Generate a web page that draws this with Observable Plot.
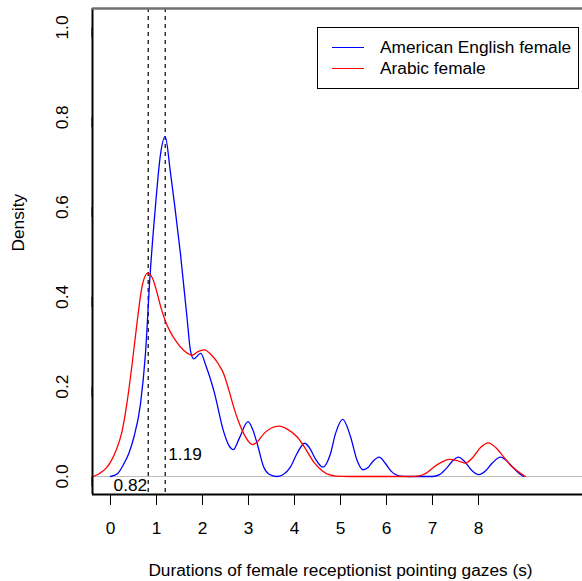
<!DOCTYPE html>
<html>
<head>
<meta charset="utf-8">
<script src="https://cdn.jsdelivr.net/npm/d3@7"></script>
<script src="https://cdn.jsdelivr.net/npm/@observablehq/plot@0.6"></script>
<style>
  html, body { margin: 0; padding: 0; background: #fff; }
  #wrap { position: relative; width: 582px; height: 581px; font-family: "Liberation Sans", Arial, Helvetica, sans-serif; }
  #legend { position: absolute; left: 317px; top: 27px; width: 262px; height: 62px; box-sizing: border-box; border: 1px solid #000; background: #fff; }
  .item { position: absolute; left: 0; height: 20px; width: 100%; font-size: 17.3px; line-height: 20px; color: #000; }
  .swatch { position: absolute; left: 14px; top: 10px; width: 32px; height: 0; border-top: 1.2px solid; }
  .name { position: absolute; left: 62px; top: 0; white-space: nowrap; }
</style>
</head>
<body>
<div id="wrap"><div id="legend"></div></div>
<script>
// Kernel density estimates of pointing-gaze durations, [seconds, density]
const americanEnglish = [
  [0.00,0.000],[0.15,0.006],[0.29,0.028],[0.40,0.052],[0.51,0.088],[0.65,0.160],[0.76,0.273],
  [0.855,0.440],[0.98,0.605],[1.08,0.712],[1.19,0.757],[1.30,0.680],[1.40,0.600],[1.52,0.497],
  [1.67,0.347],[1.74,0.280],[1.81,0.262],[1.96,0.274],[2.08,0.245],[2.25,0.190],[2.46,0.100],
  [2.57,0.070],[2.67,0.060],[2.80,0.085],[2.99,0.122],[3.09,0.105],[3.19,0.073],[3.33,0.021],
  [3.45,0.005],[3.61,0.000],[3.75,0.004],[3.91,0.021],[4.05,0.050],[4.22,0.074],[4.35,0.060],
  [4.45,0.040],[4.62,0.021],[4.78,0.050],[4.89,0.095],[5.05,0.127],[5.22,0.088],[5.36,0.036],
  [5.49,0.015],[5.60,0.020],[5.70,0.033],[5.84,0.043],[5.97,0.030],[6.10,0.012],[6.30,0.001],
  [6.50,0.000],[7.00,0.000],[7.15,0.004],[7.30,0.018],[7.45,0.036],[7.56,0.043],[7.70,0.033],
  [7.85,0.014],[8.01,0.004],[8.15,0.012],[8.30,0.030],[8.48,0.043],[8.60,0.036],[8.75,0.020],
  [8.88,0.007],[8.98,0.000]
];
const arabic = [
  [-0.37,0.000],[-0.25,0.006],[-0.10,0.018],[0.00,0.032],[0.12,0.058],[0.25,0.100],[0.36,0.165],
  [0.47,0.250],[0.58,0.345],[0.69,0.425],[0.81,0.453],[0.92,0.440],[1.01,0.410],[1.10,0.375],
  [1.19,0.347],[1.30,0.322],[1.42,0.302],[1.59,0.281],[1.78,0.270],[1.90,0.278],[2.04,0.282],
  [2.20,0.270],[2.35,0.250],[2.46,0.229],[2.58,0.190],[2.68,0.154],[2.80,0.118],[2.90,0.095],
  [3.00,0.078],[3.08,0.071],[3.20,0.078],[3.33,0.095],[3.50,0.108],[3.66,0.112],[3.85,0.105],
  [4.06,0.088],[4.25,0.060],[4.42,0.032],[4.60,0.013],[4.75,0.004],[4.90,0.001],[5.20,0.000],
  [6.50,0.000],[6.74,0.002],[6.90,0.010],[7.03,0.021],[7.20,0.032],[7.36,0.038],[7.55,0.035],
  [7.72,0.030],[7.88,0.043],[8.05,0.065],[8.21,0.075],[8.38,0.064],[8.55,0.043],[8.70,0.025],
  [8.84,0.013],[9.02,0.000]
];
const seriesNames = ["American English female", "Arabic female"];
const seriesColors = ["#0000ff", "#ff0000"];
const medians = [0.82, 1.19];
const xTicks = [0, 1, 2, 3, 4, 5, 6, 7, 8];
const yTicks = [0, 0.2, 0.4, 0.6, 0.8, 1.0];
const xLabel = "Durations of female receptionist pointing gazes (s)";
const yLabel = "Density";

const xDomain = [-0.391, 10.261];
const yDomain = [-0.0401, 1.0423];

const rows = [
  ...americanEnglish.map(([x, y]) => ({series: seriesNames[0], x, y})),
  ...arabic.map(([x, y]) => ({series: seriesNames[1], x, y}))
];

const chart = Plot.plot({
  width: 582,
  height: 581,
  marginLeft: 92,
  marginRight: 0,
  marginTop: 8,
  marginBottom: 87,
  style: {fontSize: "17.3px", fontFamily: "'Liberation Sans', Arial, Helvetica, sans-serif", color: "#000", background: "#fff"},
  x: {domain: xDomain},
  y: {domain: yDomain},
  color: {domain: seriesNames, range: seriesColors},
  marks: [
    Plot.ruleY([0], {stroke: "#bebebe", strokeWidth: 1.2}),
    Plot.ruleX(medians, {stroke: "#000", strokeWidth: 1.2, strokeDasharray: "4,4"}),
    Plot.line(rows, {x: "x", y: "y", z: "series", stroke: "series", strokeWidth: 1.3, curve: "monotone-x"}),
    Plot.text([medians[0]], {x: (d) => d, y: 0, text: (d) => d.toFixed(2), textAnchor: "end", dx: -1, dy: 8.5}),
    Plot.text([medians[1]], {x: (d) => d, y: 0, text: (d) => d.toFixed(2), textAnchor: "start", dx: 3, dy: -22}),
    // plot box: left, bottom and top edges
    Plot.ruleX([xDomain[0]], {stroke: "#000", strokeWidth: 2}),
    Plot.ruleY([yDomain[0]], {stroke: "#000", strokeWidth: 2}),
    Plot.ruleY([yDomain[1]], {stroke: "#707070", strokeWidth: 2.5}),
    Plot.axisX({ticks: xTicks, tickSize: 11, tickPadding: 16, label: null, tickFormat: d3.format("d")}),
    Plot.axisY({ticks: yTicks, tickSize: 10, tickPadding: 15, label: null, tickFormat: d3.format(".1f"),
      rotate: -90, textAnchor: "middle", lineAnchor: "bottom"}),
    Plot.text([xLabel], {frameAnchor: "bottom", text: (d) => d, lineAnchor: "bottom", dy: 81, dx: 3}),
    Plot.text([yLabel], {frameAnchor: "left", text: (d) => d, rotate: -90, lineAnchor: "bottom", dx: -69})
  ]
});

const wrap = document.getElementById("wrap");
wrap.insertBefore(chart, wrap.firstChild);

// legend box in the top-right corner of the plot
const legend = document.getElementById("legend");
seriesNames.forEach((name, i) => {
  const item = document.createElement("div");
  item.className = "item";
  item.style.top = (9 + i * 21) + "px";
  const sw = document.createElement("div");
  sw.className = "swatch";
  sw.style.borderTopColor = seriesColors[i];
  const label = document.createElement("span");
  label.className = "name";
  label.textContent = name;
  item.appendChild(sw);
  item.appendChild(label);
  legend.appendChild(item);
});
</script>
</body>
</html>
